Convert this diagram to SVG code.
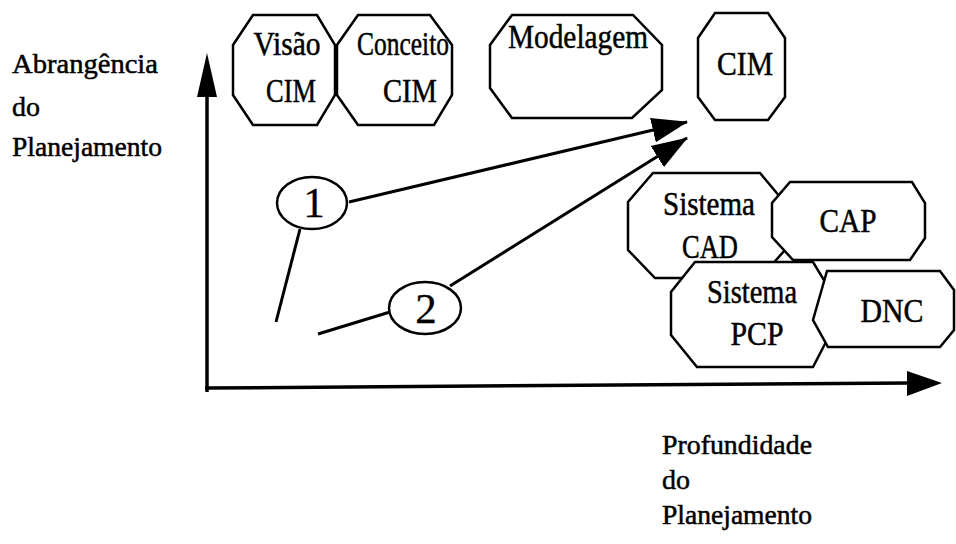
<svg xmlns="http://www.w3.org/2000/svg" width="956" height="544" viewBox="0 0 956 544">
  <style>
    .oct { fill: #fff; stroke: #000; stroke-width: 2.5; stroke-linejoin: miter; }
    .ell { fill: #fff; stroke: #000; stroke-width: 2.5; }
    .ln { fill: none; stroke: #000; stroke-width: 3; }
    .axis { fill: none; stroke: #000; stroke-width: 3.5; }
    .t { fill: #000; stroke: #000; stroke-width: 0.5; }
    .lbl { font-size: 28px; }
    .nd { font-size: 34px; text-anchor: middle; }
    .num { font-size: 43px; text-anchor: middle; stroke-width: 0.3; }
  </style>
  <defs>
    <marker id="head" markerUnits="userSpaceOnUse" markerWidth="36" markerHeight="26" refX="35" refY="12.5" orient="auto" viewBox="0 0 36 25">
      <path d="M0,0 L36,12.5 L0,25 Z" fill="#000"/>
    </marker>
  </defs>

  <rect width="956" height="544" fill="#fff"/>

  <!-- axes -->
  <g id="axes">
    <line class="axis" x1="207" y1="92" x2="207" y2="392"/>
    <polygon points="207,53 197,97 217,97" fill="#000"/>
    <line class="axis" x1="205" y1="388" x2="910" y2="383"/>
    <polygon points="942,383 907,371 907,396" fill="#000"/>
  </g>

  <g font-family="Liberation Serif, DejaVu Serif, serif">
    <!-- axis labels -->
    <g id="label-abrangencia">
      <text class="t lbl" x="12" y="73" textLength="146" lengthAdjust="spacingAndGlyphs">Abrangência</text>
      <text class="t lbl" x="12" y="116">do</text>
      <text class="t lbl" x="12" y="156" textLength="150" lengthAdjust="spacingAndGlyphs">Planejamento</text>
    </g>
    <g id="label-profundidade">
      <text class="t lbl" x="662" y="454" textLength="150" lengthAdjust="spacingAndGlyphs">Profundidade</text>
      <text class="t lbl" x="662" y="489">do</text>
      <text class="t lbl" x="662" y="524" textLength="150" lengthAdjust="spacingAndGlyphs">Planejamento</text>
    </g>

    <!-- top row -->
    <g id="visao-cim">
      <polygon class="oct" points="253,15 317,15 335,45 335,95 317,125 253,125 233,95 233,45"/>
      <text class="t nd" x="287" y="55" textLength="67" lengthAdjust="spacingAndGlyphs">Visão</text>
      <text class="t nd" x="291" y="102" textLength="50" lengthAdjust="spacingAndGlyphs">CIM</text>
    </g>
    <g id="conceito-cim">
      <polygon class="oct" points="358,15 430,15 452,45 452,95 434,125 358,125 337,95 337,45"/>
      <text class="t nd" x="403" y="55" textLength="92" lengthAdjust="spacingAndGlyphs">Conceito</text>
      <text class="t nd" x="410" y="102" textLength="54" lengthAdjust="spacingAndGlyphs">CIM</text>
    </g>
    <g id="modelagem">
      <polygon class="oct" points="512,15 633,15 662,45 662,90 632,118 512,118 490,88 490,45"/>
      <text class="t nd" x="578" y="48" textLength="140" lengthAdjust="spacingAndGlyphs">Modelagem</text>
    </g>
    <g id="cim">
      <polygon class="oct" points="715,13 768,13 785,38 785,97 768,120 715,120 698,97 698,38"/>
      <text class="t nd" x="745" y="75" textLength="56" lengthAdjust="spacingAndGlyphs">CIM</text>
    </g>

    <!-- lower right cluster -->
    <g id="sistema-cad">
      <polygon class="oct" points="653,173 760,173 785,203 785,250 760,278 655,278 628,250 628,202"/>
      <text class="t nd" x="709" y="215" textLength="92" lengthAdjust="spacingAndGlyphs">Sistema</text>
      <text class="t nd" x="710" y="258" textLength="56" lengthAdjust="spacingAndGlyphs">CAD</text>
    </g>
    <g id="cap">
      <polygon class="oct" points="790,182 912,182 925,203 925,238 910,260 793,260 772,237 772,203"/>
      <text class="t nd" x="848" y="232" textLength="57" lengthAdjust="spacingAndGlyphs">CAP</text>
    </g>
    <g id="sistema-pcp">
      <polygon class="oct" points="695,262 813,262 827,285 827,340 813,367 697,367 671,335 671,292"/>
      <text class="t nd" x="752" y="303" textLength="90" lengthAdjust="spacingAndGlyphs">Sistema</text>
      <text class="t nd" x="757" y="345" textLength="53" lengthAdjust="spacingAndGlyphs">PCP</text>
    </g>
    <g id="dnc">
      <polygon class="oct" points="827,271 940,271 954,290 954,330 940,347 828,347 813,320"/>
      <text class="t nd" x="892" y="322" textLength="63" lengthAdjust="spacingAndGlyphs">DNC</text>
    </g>

    <!-- path markers 1 and 2 -->
    <g id="step-1">
      <ellipse class="ell" cx="312" cy="203" rx="35" ry="26"/>
      <text class="t num" x="314" y="217">1</text>
    </g>
    <g id="step-2">
      <ellipse class="ell" cx="425" cy="308" rx="36" ry="26"/>
      <text class="t num" x="426" y="323">2</text>
    </g>
  </g>

  <!-- connectors -->
  <g id="connectors">
    <line class="ln" x1="276" y1="322" x2="300" y2="229"/>
    <line class="ln" x1="349" y1="202" x2="687" y2="122" marker-end="url(#head)"/>
    <line class="ln" x1="318" y1="334" x2="390" y2="312"/>
    <line class="ln" x1="450" y1="286" x2="687" y2="138" marker-end="url(#head)"/>
  </g>
</svg>
